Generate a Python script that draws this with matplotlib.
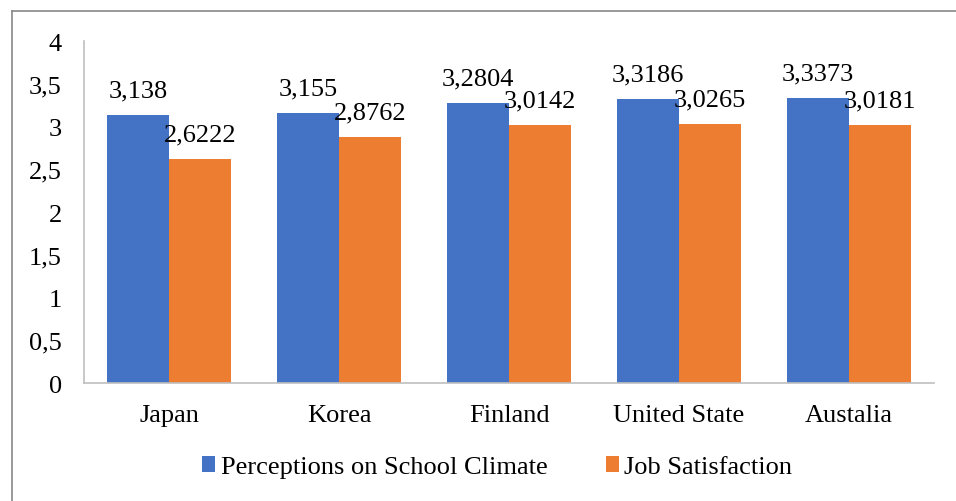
import matplotlib
matplotlib.use("Agg")
import matplotlib.pyplot as plt
import numpy as np
from matplotlib.lines import Line2D

countries = ["Japan", "Korea", "Finland", "United State", "Austalia"]
climate = [3.138, 3.155, 3.2804, 3.3186, 3.3373]
satisfaction = [2.6222, 2.8762, 3.0142, 3.0265, 3.0181]
climate_labels = ["3,138", "3,155", "3,2804", "3,3186", "3,3373"]
satisfaction_labels = ["2,6222", "2,8762", "3,0142", "3,0265", "3,0181"]
y_ticks = [0, 0.5, 1, 1.5, 2, 2.5, 3, 3.5, 4]
y_tick_labels = ["0", "0,5", "1", "1,5", "2", "2,5", "3", "3,5", "4"]

plt.rcParams['font.family'] = ['Liberation Serif', 'DejaVu Serif']

blue = "#4472C4"
orange = "#ED7D31"

fig = plt.figure(figsize=(9.56, 5.02), dpi=100)
ax = fig.add_axes([0.088, 0.235, 0.889, 0.681])

x = np.arange(len(countries))
w = 0.366
b1 = ax.bar(x - w / 2, climate, w, color=blue, label="Perceptions on School Climate")
b2 = ax.bar(x + w / 2, satisfaction, w, color=orange, label="Job Satisfaction")

for rect, lab in zip(b1, climate_labels):
    ax.text(rect.get_x() + rect.get_width() / 2, rect.get_height() + 0.16, lab,
            ha="center", va="bottom", fontsize=19)
for rect, lab in zip(b2, satisfaction_labels):
    ax.text(rect.get_x() + rect.get_width() / 2, rect.get_height() + 0.16, lab,
            ha="center", va="bottom", fontsize=19)

ax.set_xlim(-0.5, len(countries) - 0.5)
ax.set_ylim(0, 4)
ax.set_yticks(y_ticks)
ax.set_yticklabels(y_tick_labels, fontsize=19)
ax.set_xticks(x)
ax.set_xticklabels(countries, fontsize=19)
ax.tick_params(length=0)
ax.tick_params(axis="y", pad=16)
ax.tick_params(axis="x", pad=15)

for s in ["top", "right"]:
    ax.spines[s].set_visible(False)
for s in ["left", "bottom"]:
    ax.spines[s].set_color("#BFBFBF")
    ax.spines[s].set_linewidth(1.2)

fig.legend(handles=[b1, b2], loc="center", bbox_to_anchor=(0.52, 0.068), ncol=2,
           frameon=False, fontsize=19, handlelength=0.5, handleheight=0.6,
           handletextpad=0.2, columnspacing=2.2)

# outer frame
fig.add_artist(Line2D([12 / 956, 1], [1 - 12 / 502, 1 - 12 / 502], color="#888888", lw=1.2))
fig.add_artist(Line2D([12 / 956, 12 / 956], [0, 1 - 12 / 502], color="#888888", lw=1.2))

fig.savefig("out.png", dpi=100)
